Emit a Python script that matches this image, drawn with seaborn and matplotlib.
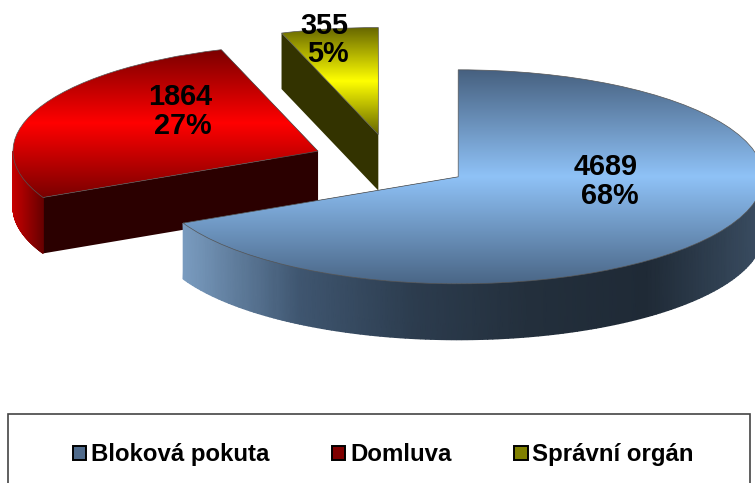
import numpy as np
import matplotlib
matplotlib.use("Agg")
import matplotlib.pyplot as plt
import seaborn as sns
from matplotlib.patches import Patch, Rectangle

categories = ["Bloková pokuta", "Domluva", "Správní orgán"]
counts = [4689, 1864, 355]
percents = [68, 27, 5]

legend_colors = ["#4F6A8B", "#7F0000", "#808000"]
top_colors = [
    ["#46607F", "#8FC2F7", "#4A6686"],
    ["#7A0000", "#FF0000", "#7A0000"],
    ["#666600", "#FFFF00", "#666600"],
]
rim_colors = [
    ["#7A9CC0", "#3F5670", "#2C3C4E", "#232F3C", "#1F2A36", "#3A4D62"],
    ["#C80000", "#6A0000"],
    ["#333300", "#333300"],
]
cut_colors = ["#22303E", "#2B0000", "#333300"]
# label offset from the slice tip, in data units
label_offsets = [(0.59, -0.045), (-0.348, 0.37), (-0.098, 0.885)]
depth = 0.523

sns.set_theme(style="white")
plt.rcParams["font.family"] = ["Liberation Sans", "DejaVu Sans"]

fig = plt.figure(figsize=(7.55, 4.83), dpi=100)
ax = fig.add_axes([0, 0, 1, 1])

wedges, _ = ax.pie(counts, explode=[0.26, 0.26, 0.26], startangle=90, counterclock=False)

# draw back to front so blue sits over the red one
for i in [2, 1, 0]:
    w = wedges[i]
    z = 10 + (2 - i) * 10
    cx, cy = w.center
    cmap_top = sns.blend_palette(top_colors[i], as_cmap=True)
    cmap_rim = sns.blend_palette(rim_colors[i], as_cmap=True)

    # cut faces
    for th in [w.theta1, w.theta2]:
        ex = cx + w.r * np.cos(np.radians(th))
        ey = cy + w.r * np.sin(np.radians(th))
        ax.fill([cx, ex, ex, cx], [cy, ey, ey - depth, cy - depth],
                color=cut_colors[i], lw=0, zorder=z)

    # outer rim, only the part facing the viewer
    lo, hi = max(w.theta1, -180), min(w.theta2, 0)
    if lo < hi:
        th = np.radians(np.linspace(lo, hi, 160))
        x = cx + w.r * np.cos(th)
        y = cy + w.r * np.sin(th)
        X = np.vstack([x, x])
        Y = np.vstack([y, y - depth])
        C = np.vstack([(x - x.min()) / (x.max() - x.min())] * 2)
        ax.pcolormesh(X, Y, C, cmap=cmap_rim, shading="gouraud", zorder=z + 1)

    # top face with a vertical gradient
    box = w.get_path().transformed(w.get_patch_transform()).get_extents()
    grad = np.linspace(0, 1, 256)[:, None]
    im = ax.imshow(grad, cmap=cmap_top, aspect="auto", origin="upper",
                   extent=[box.x0, box.x1, box.y0, box.y1], zorder=z + 2)
    im.set_clip_path(w)
    w.set(facecolor="none", edgecolor="#555555", linewidth=0.5, zorder=z + 3)

    ax.text(cx + label_offsets[i][0], cy + label_offsets[i][1],
            f"{counts[i]}\n{percents[i]}%", ha="right", va="center", ma="right",
            fontsize=20.8, fontweight="bold", color="black", linespacing=1.03, zorder=60)

ax.set_aspect("auto")
ax.set_xlim(-1.282, 1.193)
ax.set_ylim(-3.0, 1.514)
ax.axis("off")

# legend box runs off the bottom of the picture
fig.add_artist(Rectangle((8 / 755, -0.02), 742 / 755, 0.162, transform=fig.transFigure,
                         facecolor="white", edgecolor="#444444", linewidth=1.2))
handles = [Patch(facecolor=c, edgecolor="black", linewidth=1.4) for c in legend_colors]
leg = fig.legend(handles, categories, loc="center", bbox_to_anchor=(0.5076, 0.0585), ncol=3,
                 frameon=False, handlelength=0.55, handleheight=0.55, handletextpad=0.2,
                 columnspacing=2.62, prop={"weight": "bold", "size": 17.3})
for t in leg.get_texts():
    t.set_color("black")

fig.savefig("out.png", dpi=100)
